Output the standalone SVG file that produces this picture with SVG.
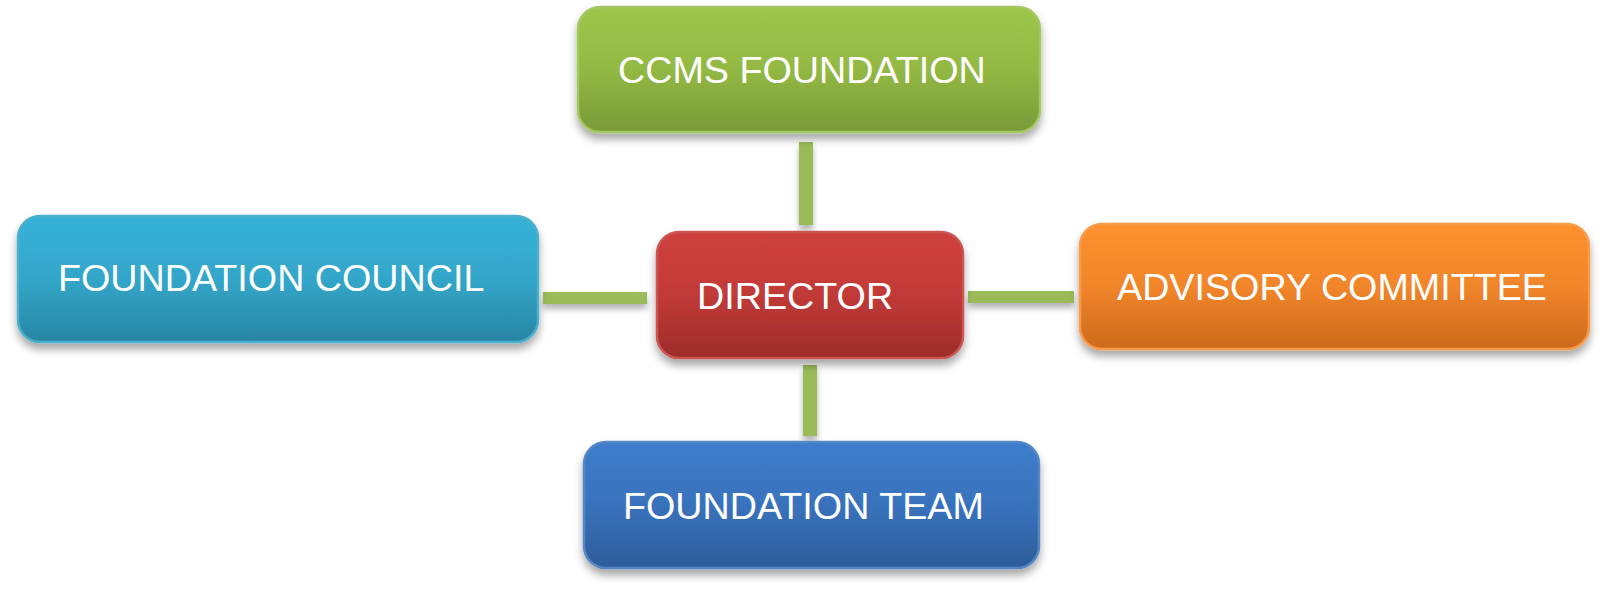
<svg xmlns="http://www.w3.org/2000/svg" width="1619" height="603" viewBox="0 0 1619 603">
  <defs>
    <filter id="sh" x="-10%" y="-20%" width="120%" height="150%">
      <feDropShadow dx="0" dy="6" stdDeviation="4" flood-color="#000" flood-opacity="0.35"/>
    </filter>
    <filter id="shc" x="-30%" y="-60%" width="160%" height="260%">
      <feDropShadow dx="0" dy="5" stdDeviation="3" flood-color="#000" flood-opacity="0.3"/>
    </filter>
    <linearGradient id="gGreen" x1="0" y1="0" x2="0" y2="1">
      <stop offset="0" stop-color="#9ec64c"/>
      <stop offset="0.5" stop-color="#93b944"/>
      <stop offset="1" stop-color="#789a38"/>
    </linearGradient>
    <linearGradient id="gRed" x1="0" y1="0" x2="0" y2="1">
      <stop offset="0" stop-color="#cf403d"/>
      <stop offset="0.5" stop-color="#c13a37"/>
      <stop offset="1" stop-color="#9c2c2a"/>
    </linearGradient>
    <linearGradient id="gCyan" x1="0" y1="0" x2="0" y2="1">
      <stop offset="0" stop-color="#37b2d8"/>
      <stop offset="0.5" stop-color="#33a6c9"/>
      <stop offset="1" stop-color="#2886a3"/>
    </linearGradient>
    <linearGradient id="gOrange" x1="0" y1="0" x2="0" y2="1">
      <stop offset="0" stop-color="#fe922e"/>
      <stop offset="0.5" stop-color="#f1852a"/>
      <stop offset="1" stop-color="#cd6a1c"/>
    </linearGradient>
    <linearGradient id="gBlue" x1="0" y1="0" x2="0" y2="1">
      <stop offset="0" stop-color="#3e7dcc"/>
      <stop offset="0.5" stop-color="#3972bc"/>
      <stop offset="1" stop-color="#2d5c99"/>
    </linearGradient>
  </defs>
  <style>
    .box { stroke-width: 2.5; filter: url(#sh); }
    .lbl { font-family: "Liberation Sans", Arial, sans-serif; font-size: 37.7px; fill: #ffffff; }
    .conn { fill: #9bbb59; filter: url(#shc); }
  </style>

  <g id="connectors">
    <rect class="conn" x="799" y="142" width="14" height="83"/>
    <rect class="conn" x="803" y="365" width="14" height="71"/>
    <rect class="conn" x="543" y="292" width="104" height="12"/>
    <rect class="conn" x="968" y="291" width="106" height="12"/>
  </g>

  <g id="ccms-foundation">
    <rect class="box" x="578" y="7" width="462" height="125" rx="22" fill="url(#gGreen)" stroke="#a3c862"/>
    <text class="lbl" x="618" y="83">CCMS FOUNDATION</text>
  </g>

  <g id="foundation-council">
    <rect class="box" x="18" y="216" width="520" height="126" rx="22" fill="url(#gCyan)" stroke="#4bb0cc"/>
    <text class="lbl" x="58" y="291">FOUNDATION COUNCIL</text>
  </g>

  <g id="director">
    <rect class="box" x="657" y="232" width="306" height="126" rx="22" fill="url(#gRed)" stroke="#cb5552"/>
    <text class="lbl" x="697" y="309">DIRECTOR</text>
  </g>

  <g id="advisory-committee">
    <rect class="box" x="1080" y="224" width="509" height="125" rx="22" fill="url(#gOrange)" stroke="#f99a4a"/>
    <text class="lbl" x="1117" y="300">ADVISORY COMMITTEE</text>
  </g>

  <g id="foundation-team">
    <rect class="box" x="584" y="442" width="455" height="126" rx="22" fill="url(#gBlue)" stroke="#5587c4"/>
    <text class="lbl" x="623" y="519">FOUNDATION TEAM</text>
  </g>
</svg>
